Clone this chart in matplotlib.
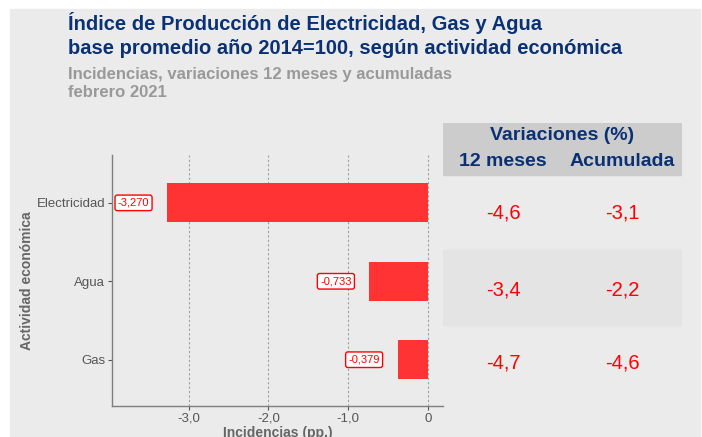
import matplotlib.pyplot as plt
import matplotlib.patches as patches
import numpy as np

plt.rcParams['font.family'] = ['Liberation Sans', 'DejaVu Sans']

actividades = ['Gas', 'Agua', 'Electricidad']
incidencias = [-0.379, -0.733, -3.270]
etiquetas = ['-0,379', '-0,733', '-3,270']
var_12m = ['-4,7', '-3,4', '-4,6']
var_acum = ['-4,6', '-2,2', '-3,1']
xticks = [-3, -2, -1, 0]
xtick_labels = ['-3,0', '-2,0', '-1,0', '0']

W, H = 702, 437
fig = plt.figure(figsize=(W / 100, H / 100), dpi=100)
fig.patch.set_facecolor('white')

azul = '#0B3175'
gris_txt = '#999999'
fondo = '#EBEBEB'

def fx(px):
    return px / W

def fy(py):
    return 1 - py / H

# fondo gris general
fig.patches.append(patches.Rectangle((fx(10), 0), fx(690), 1 - 9 / H,
                                     transform=fig.transFigure, color=fondo, zorder=-10))

fig.text(fx(68), fy(30), 'Índice de Producción de Electricidad, Gas y Agua',
         color=azul, fontsize=14.5, fontweight='bold', va='baseline')
fig.text(fx(68), fy(54), 'base promedio año 2014=100, según actividad económica',
         color=azul, fontsize=14.5, fontweight='bold', va='baseline')
fig.text(fx(68), fy(79), 'Incidencias, variaciones 12 meses y acumuladas',
         color=gris_txt, fontsize=12, fontweight='bold', va='baseline')
fig.text(fx(68), fy(97), 'febrero 2021',
         color=gris_txt, fontsize=12, fontweight='bold', va='baseline')

# panel del gráfico
ax = fig.add_axes([fx(112), fy(406), fx(443 - 112), (406 - 155) / H])
ax.set_facecolor('#EBEBEB')
y = np.arange(1, len(actividades) + 1)
ax.barh(y, incidencias, height=0.5, color='#FF3333', zorder=3)
for xv in xticks:
    ax.axvline(xv, color='#A0A0A0', lw=0.8, ls=(0, (2, 2)), zorder=1)
for yi, v, t in zip(y, incidencias, etiquetas):
    ax.text(v - 0.42, yi, t, ha='center', va='center', color='#FF0000', fontsize=8,
            bbox=dict(boxstyle='round,pad=0.25,rounding_size=0.2', fc='white', ec='#FF0000', lw=1),
            zorder=4)
ax.set_xlim(-3.96, 0.19)
ax.set_ylim(0.41, 3.61)
ax.set_yticks(y)
ax.set_yticklabels(actividades, fontsize=9.5, color='#555555')
ax.set_xticks(xticks)
ax.set_xticklabels(xtick_labels, fontsize=9.5, color='#555555')
for s in ['top', 'right']:
    ax.spines[s].set_visible(False)
for s in ['left', 'bottom']:
    ax.spines[s].set_color('#7F7F7F')
    ax.spines[s].set_linewidth(1)
ax.tick_params(axis='y', colors='#555555', length=3, width=0.8, pad=2)
ax.tick_params(axis='x', colors='#555555', length=3, width=0.8, pad=2)
ax.set_xlabel('Incidencias (pp.)', fontsize=10, fontweight='bold', color='#666666', labelpad=1)
ax.set_ylabel('Actividad económica', fontsize=10, fontweight='bold', color='#666666', labelpad=2)

# tabla de variaciones
tab = fig.add_axes([fx(443), fy(406), fx(682 - 443), (406 - 123) / H])
tab.set_xlim(443, 682)
tab.set_ylim(406, 123)
tab.axis('off')
tab.add_patch(patches.Rectangle((443, 123), 239, 52, color='#CCCCCC', zorder=0))
tab.add_patch(patches.Rectangle((443, 250), 239, 75, color='#E4E4E4', zorder=0))
tab.text(562, 135, 'Variaciones (%)', ha='center', va='center', color=azul,
         fontsize=14, fontweight='bold')
tab.text(503, 162, '12 meses', ha='center', va='center', color=azul,
         fontsize=14, fontweight='bold')
tab.text(622, 162, 'Acumulada', ha='center', va='center', color=azul,
         fontsize=14, fontweight='bold')
fila_y = {3: 213, 2: 290, 1: 363}
for yi, a, b in zip(y, var_12m, var_acum):
    tab.text(503, fila_y[yi], a, ha='center', va='center', color='#FF0000', fontsize=14.5)
    tab.text(622, fila_y[yi], b, ha='center', va='center', color='#FF0000', fontsize=14.5)

fig.savefig('out.png', dpi=100, facecolor=fig.get_facecolor())
